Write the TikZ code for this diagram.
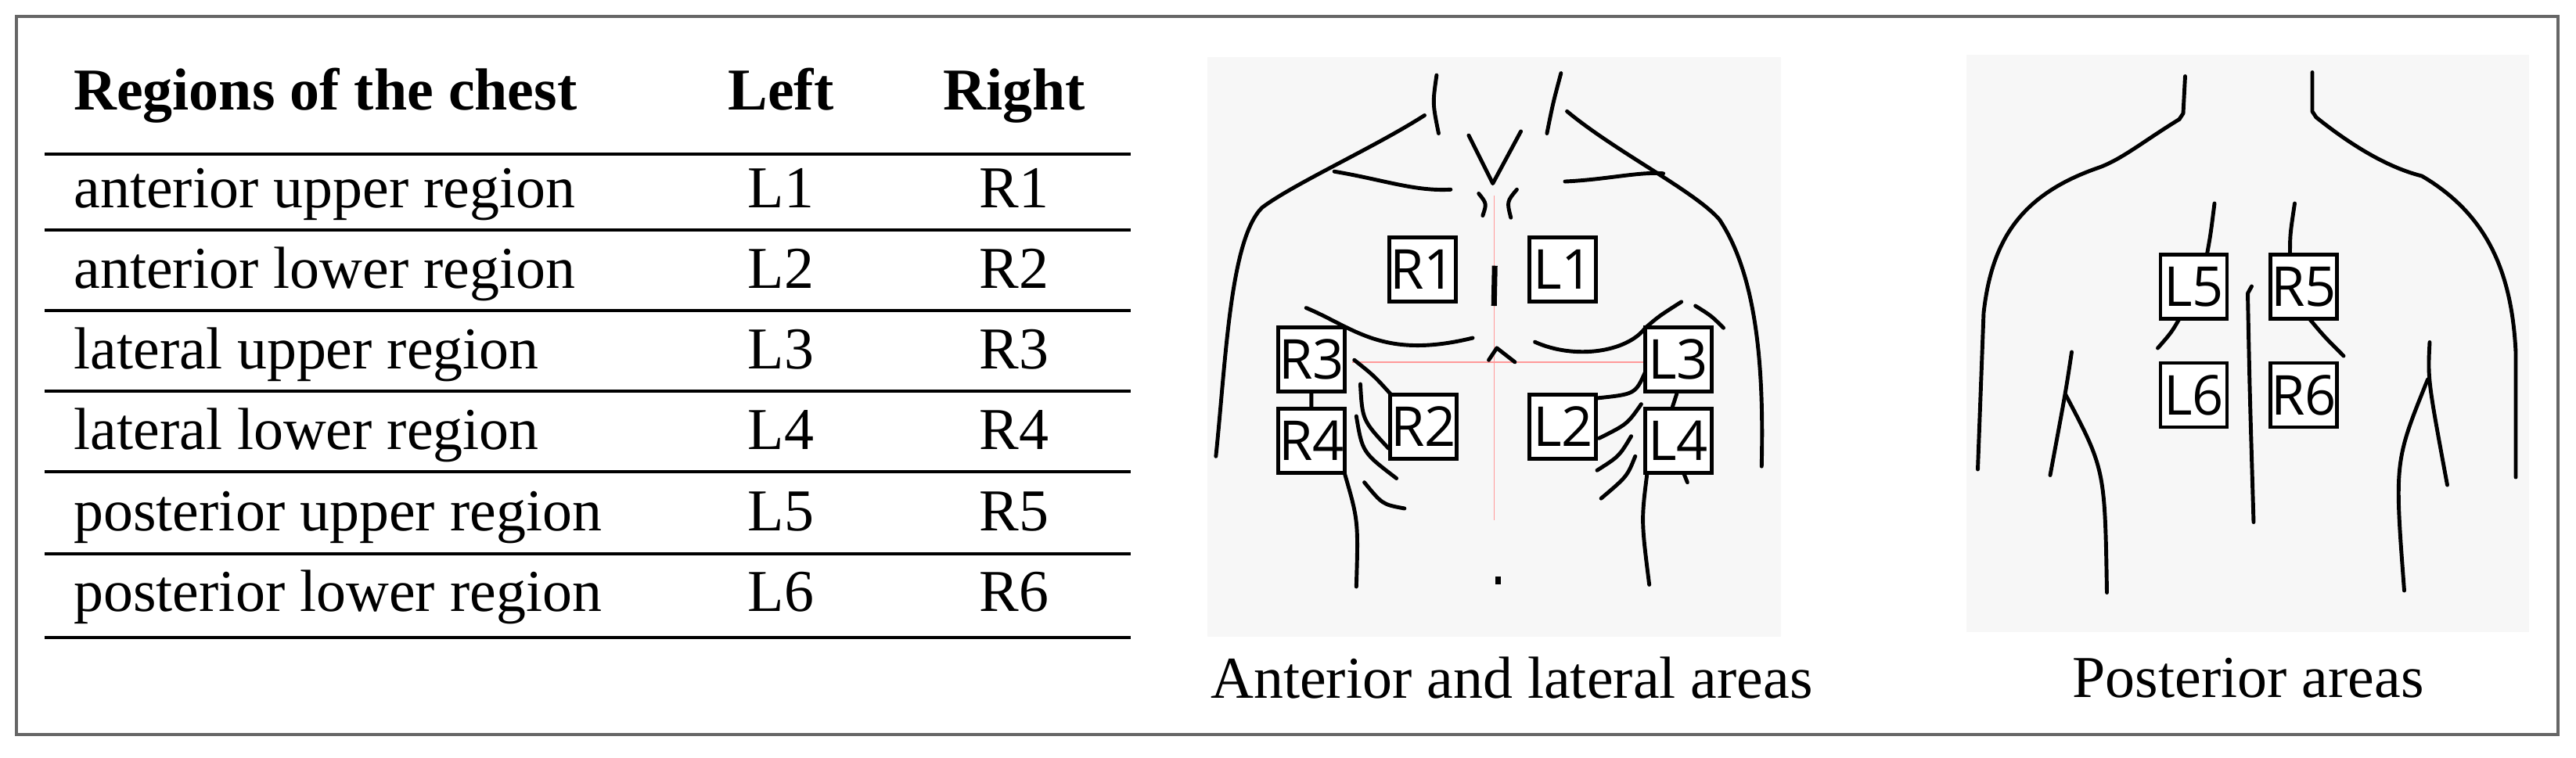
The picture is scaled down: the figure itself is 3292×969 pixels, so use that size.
\documentclass[tikz,border=0pt]{standalone}
\usepackage{fontspec}
\setmainfont{Liberation Serif}
\newfontfamily\boxfont{Open Sans}
\begin{document}
\begin{tikzpicture}[x=0.1mm,y=-0.1mm,
  cell/.style={font=\fontsize{21.6}{26}\selectfont,anchor=base},
  lbl/.style={draw,line width=1.4pt,minimum width=8.5mm,minimum height=8.2mm,inner sep=0,font=\boxfont\fontsize{20}{22}\selectfont},
  body/.style={line width=1.4pt,line cap=round,line join=round},
  rule/.style={line width=0.9pt}]
\useasboundingbox (0,0) rectangle (3292,969);
\draw[line width=0.9pt,black!60] (21,21) rectangle (3269,939);
% table
\node[cell,font=\bfseries\fontsize{21.6}{26}\selectfont,anchor=base west] (h0) at (82,140) {Regions of the chest};
\node[cell,font=\bfseries\fontsize{21.6}{26}\selectfont] (h1) at (998,140) {Left};
\node[cell,font=\bfseries\fontsize{21.6}{26}\selectfont] (h2) at (1296,140) {Right};
\foreach \y in {197,294,397,500,603,708,815} \draw[rule] (57,\y) -- (1445,\y);
\foreach \t/\l/\r [count=\i] in {anterior upper region/L1/R1,anterior lower region/L2/R2,lateral upper region/L3/R3,lateral lower region/L4/R4,posterior upper region/L5/R5,posterior lower region/L6/R6}{
  \pgfmathsetmacro\yy{197+(\i-1)*103.3+68}
  \node[cell,anchor=base west] (t\i) at (82,\yy) {\t};
  \node[cell] (l\i) at (998,\yy) {\l};
  \node[cell] (r\i) at (1296,\yy) {\r};
}
% front image
\fill[black!3] (1543,73) rectangle (2276,814);
\node[cell,anchor=center] (cap1) at (1932,867) {Anterior and lateral areas};
\begin{scope}[shift={(1500,50)},scale=0.5128]
\draw[red!40,line width=0.4pt] (798,390)--(798,1200) (445,805)--(1175,805);
\draw[body] (655,90) .. controls (645,160) .. (660,235);
\draw[body] (965,85) .. controls (945,160) .. (930,235);
\draw[body] (625,190) .. controls (500,270) and (300,360) .. (220,420) .. controls (140,500) and (130,800) .. (105,1040);
\draw[body] (980,180) .. controls (1100,280) and (1300,380) .. (1360,450) .. controls (1460,600) and (1470,850) .. (1465,1065);
\draw[body] (400,330) .. controls (520,350) and (600,380) .. (690,375);
\draw[body] (975,355) .. controls (1080,350) and (1160,330) .. (1220,335);
\draw[body] (735,240) -- (795,360) -- (865,230);
\draw[body] (760,385) .. controls (780,410) .. (770,440);
\draw[body] (855,375) .. controls (830,405) .. (840,445);
\draw[line width=2pt] (800,565) -- (798,665);
\draw[body] (330,670) .. controls (450,720) and (520,800) .. (745,745);
\draw[body] (900,755) .. controls (1000,800) and (1130,780) .. (1175,720) .. controls (1210,690) .. (1265,655);
\draw[body] (1300,665) .. controls (1340,690) .. (1370,720);
\draw[body] (785,800) -- (805,770) -- (850,805);
\draw[body] (450,800) .. controls (500,840) .. (545,890);
\draw[body] (465,860) .. controls (470,950) .. (535,1020);
\draw[body] (455,940) .. controls (470,1030) .. (555,1095);
\draw[body] (475,1105) .. controls (520,1160) .. (575,1170);
\draw[body] (1055,895) .. controls (1150,885) .. (1175,830);
\draw[body] (1060,995) .. controls (1130,960) .. (1165,910);
\draw[body] (1055,1075) .. controls (1110,1040) .. (1140,990);
\draw[body] (1065,1145) .. controls (1130,1090) .. (1150,1040);
\draw[body] (425,1080) .. controls (460,1200) .. (455,1365);
\draw[body] (1180,1080) .. controls (1165,1200) .. (1185,1360);
\draw[body] (1270,1080) -- (1280,1105);
\draw[line width=2pt] (808,1340) -- (808,1360);
\node[lbl,fill=white] (R1) at (620,575) {R1};
\node[lbl,fill=white] (L1) at (970,575) {L1};
\node[lbl,fill=white] (R3) at (343,799) {R3};
\node[lbl,fill=white] (R4) at (343,1001) {R4};
\node[lbl,fill=white] (R2) at (622,966) {R2};
\node[lbl,fill=white] (L2) at (970,966) {L2};
\node[lbl,fill=white] (L3) at (1257,799) {L3};
\node[lbl,fill=white] (L4) at (1257,1001) {L4};
\draw[body] (R3) -- (R4);
\draw[body] ([xshift=-1]L3.south) -- ([xshift=-4]L4.north);
\end{scope}
% back image
\fill[black!3] (2513,70) rectangle (3232,808);
\node[cell,anchor=center] (cap2) at (2873,867) {Posterior areas};
\begin{scope}[shift={(2480,50)},scale=0.5]
\draw[body] (625,95) -- (620,190) -- (610,205);
\draw[body] (950,85) -- (950,185) -- (960,200);
\draw[body] (610,205) .. controls (520,260) and (460,310) .. (400,330) .. controls (200,400) and (130,520) .. (110,700) -- (95,1100);
\draw[body] (960,200) .. controls (1060,280) and (1150,330) .. (1230,350) .. controls (1400,450) and (1460,600) .. (1470,800) -- (1470,1120);
\draw[body] (700,420) .. controls (690,500) .. (680,555);
\draw[body] (905,420) .. controls (893,500) .. (893,555);
\draw[body] (612,712) .. controls (590,750) .. (555,790);
\draw[body] (940,712) .. controls (980,760) .. (1030,810);
\draw[body] (795,632) -- (785,650) .. controls (790,900) .. (800,1235);
\draw[body] (335,800) .. controls (320,900) .. (280,1115);
\draw[body] (320,910) .. controls (420,1100) .. (425,1415);
\draw[body] (1250,775) .. controls (1245,870) .. (1295,1140);
\draw[body] (1245,870) .. controls (1160,1080) .. (1185,1410);
\node[lbl,fill=white] (L5) at (647,633) {L5};
\node[lbl,fill=white] (R5) at (928,633) {R5};
\node[lbl,fill=white] (L6) at (647,910) {L6};
\node[lbl,fill=white] (R6) at (928,910) {R6};
\end{scope}
\end{tikzpicture}
\end{document}
